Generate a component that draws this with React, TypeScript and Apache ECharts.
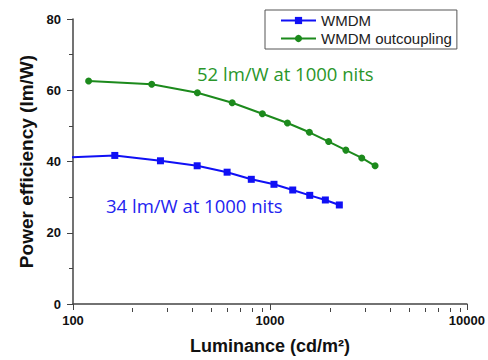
import React, { useEffect, useRef } from "react";
import * as echarts from "echarts";

const seriesNames = ["WMDM", "WMDM outcoupling"];
const wmdmLum = [70, 163, 278, 427, 606, 804, 1048, 1305, 1592, 1911, 2250];
const wmdmEff = [40.8, 41.7, 40.2, 38.8, 37.0, 35.0, 33.6, 32.0, 30.5, 29.2, 27.8];
const outLum = [120, 251, 428, 643, 915, 1227, 1585, 1985, 2428, 2925, 3418];
const outEff = [62.6, 61.7, 59.3, 56.5, 53.4, 50.8, 48.2, 45.6, 43.2, 41.0, 38.8];
const minorLogTicks = [200, 300, 400, 500, 600, 700, 800, 900, 2000, 3000, 4000, 5000, 6000, 7000, 8000, 9000];
const annotations = ["52 lm/W at 1000 nits", "34 lm/W at 1000 nits"];

const BLUE = "#1010f5";
const GREEN = "#1c8a1c";
const AXIS = "#444";

export default function App() {
  const ref = useRef<HTMLDivElement>(null);
  useEffect(() => {
    if (!ref.current) return;
    const chart = echarts.init(ref.current, null, { renderer: "svg" });
    const labelFont = "'Liberation Sans', Arial, sans-serif";
    const gridRect = { left: 73, top: 19, right: 19, bottom: 52 };
    chart.setOption({
      animation: false,
      backgroundColor: "#fff",
      grid: [{ ...gridRect }, { ...gridRect }],
      legend: {
        orient: "vertical",
        left: 265,
        top: 10,
        borderColor: "#555",
        borderWidth: 1,
        padding: [3, 5, 3, 15],
        itemGap: 3,
        itemWidth: 35,
        itemHeight: 9,
        textStyle: { fontSize: 15, color: "#222", fontFamily: labelFont },
        data: seriesNames,
      },
      xAxis: [
        {
          type: "log",
          gridIndex: 0,
          logBase: 10,
          min: 100,
          max: 10000,
          axisLine: { lineStyle: { color: AXIS, width: 1.5 } },
          axisTick: { length: 6, lineStyle: { color: AXIS } },
          axisLabel: {
            fontSize: 13,
            fontWeight: "bold",
            color: "#111",
            margin: 10,
            fontFamily: labelFont,
            formatter: (v: number) => String(Math.round(v)),
          },
          splitLine: { show: false },
          name: "Luminance (cd/m²)",
          nameLocation: "middle",
          nameGap: 33,
          nameTextStyle: { fontSize: 18, fontWeight: "bold", color: "#111", fontFamily: labelFont },
        },
        {
          type: "value",
          gridIndex: 1,
          min: 2,
          max: 4,
          position: "bottom",
          axisLine: { show: false },
          axisLabel: { show: false },
          splitLine: { show: false },
          axisTick: {
            length: 4,
            lineStyle: { color: AXIS },
            customValues: minorLogTicks.map((v) => Math.log10(v)),
          },
        },
      ],
      yAxis: [
        {
          type: "value",
          gridIndex: 0,
          min: 0,
          max: 80,
          interval: 20,
          axisLine: { show: true, lineStyle: { color: AXIS, width: 1.5 } },
          axisTick: { show: true, length: 6, lineStyle: { color: AXIS } },
          minorTick: { show: true, splitNumber: 2, length: 4, lineStyle: { color: AXIS } },
          axisLabel: { fontSize: 13, fontWeight: "bold", color: "#111", margin: 12, fontFamily: labelFont },
          splitLine: { show: false },
          name: "Power efficiency (lm/W)",
          nameLocation: "middle",
          nameGap: 37,
          nameTextStyle: { fontSize: 19, fontWeight: "bold", color: "#111", fontFamily: labelFont },
        },
        {
          type: "value",
          gridIndex: 1,
          min: 0,
          max: 80,
          show: false,
        },
      ],
      series: [
        {
          name: seriesNames[0],
          type: "line",
          xAxisIndex: 0,
          yAxisIndex: 0,
          symbol: "rect",
          symbolSize: 7,
          clip: true,
          color: BLUE,
          lineStyle: { width: 2, color: BLUE },
          itemStyle: { color: BLUE },
          data: wmdmLum.map((x, i) =>
            i === 0 ? { value: [x, wmdmEff[i]], symbol: "none" } : [x, wmdmEff[i]]
          ),
        },
        {
          name: seriesNames[1],
          type: "line",
          xAxisIndex: 0,
          yAxisIndex: 0,
          symbol: "circle",
          symbolSize: 7,
          clip: true,
          color: GREEN,
          lineStyle: { width: 2, color: GREEN },
          itemStyle: { color: GREEN },
          data: outLum.map((x, i) => [x, outEff[i]]),
        },
      ],
      graphic: [
        {
          type: "text",
          left: 197,
          top: 64,
          style: { text: annotations[0], fill: "#2a962a", font: "18.5px 'Open Sans', sans-serif" },
        },
        {
          type: "text",
          left: 106,
          top: 196,
          style: { text: annotations[1], fill: "#2323f0", font: "18.5px 'Open Sans', sans-serif" },
        },
      ],
    });
    return () => chart.dispose();
  }, []);
  return <div ref={ref} style={{ position: "absolute", left: 0, top: 0, width: 488, height: 360 }} />;
}
